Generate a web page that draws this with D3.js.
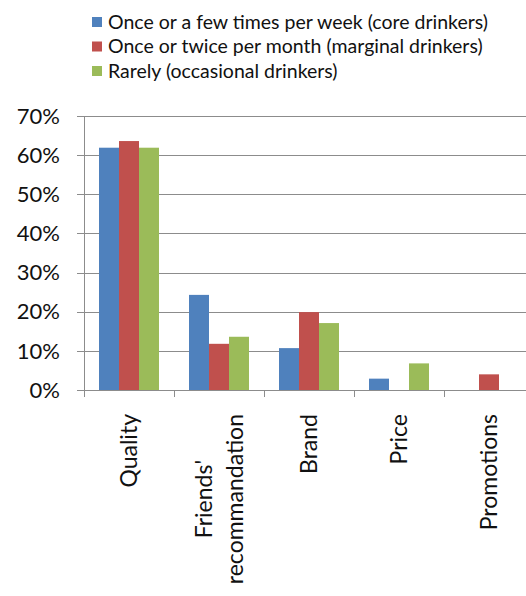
<!DOCTYPE html>
<html>
<head>
<meta charset="utf-8">
<script src="https://cdn.jsdelivr.net/npm/d3@7"></script>
<style>
  body { margin: 0; background: #fff; }
  svg { display: block; font-family: Lato, 'Open Sans', sans-serif; }
</style>
</head>
<body>
<div id="chart"></div>
<script>
const categories = ['Quality', "Friends'\nrecommandation", 'Brand', 'Price', 'Promotions']
const seriesNames = [
  'Once or a few times per week (core drinkers)',
  'Once or twice per month (marginal drinkers)',
  'Rarely (occasional drinkers)'
]
const coreValues = [0.619, 0.243, 0.107, 0.029, 0]
const marginalValues = [0.636, 0.118, 0.199, 0, 0.040]
const occasionalValues = [0.619, 0.136, 0.171, 0.068, 0]
const yTicks = [0, 0.1, 0.2, 0.3, 0.4, 0.5, 0.6, 0.7]
const colors = ['#4f81bd', '#c0504d', '#9bbb59']

const margin = { top: 116, left: 84, right: 0, bottom: 206 }
const width = 450
const height = 596 - margin.top - margin.bottom

const svg = d3
  .select('#chart')
  .append('svg')
  .attr('width', 526)
  .attr('height', 596)

const g = svg
  .append('g')
  .attr('transform', 'translate(' + margin.left + ',' + margin.top + ')')

const xPositionScale = d3.scaleBand().domain(categories).range([0, width]).padding(0)
const xInner = d3
  .scaleBand()
  .domain(seriesNames)
  .range([0, xPositionScale.bandwidth()])
  .paddingInner(0)
  .paddingOuter(0.75)
const yPositionScale = d3.scaleLinear().domain([0, 0.7]).range([height, 0])

const allValues = [coreValues, marginalValues, occasionalValues]

// gridlines
g.selectAll('.grid')
  .data(yTicks)
  .enter()
  .append('line')
  .attr('class', 'grid')
  .attr('x1', -7)
  .attr('x2', width)
  .attr('y1', d => Math.round(yPositionScale(d)) + 0.5)
  .attr('y2', d => Math.round(yPositionScale(d)) + 0.5)
  .attr('stroke', '#8c8c8c')
  .attr('stroke-width', 1)

// y labels
g.selectAll('.y-label')
  .data(yTicks)
  .enter()
  .append('text')
  .attr('class', 'y-label')
  .attr('x', -24)
  .attr('y', d => yPositionScale(d))
  .attr('dy', '0.35em')
  .attr('text-anchor', 'end')
  .attr('font-size', 22)
  .attr('fill', '#111')
  .text(d3.format('.0%'))

// bars
categories.forEach((cat, i) => {
  const group = g.append('g').attr('transform', 'translate(' + xPositionScale(cat) + ',0)')
  seriesNames.forEach((s, j) => {
    const v = allValues[j][i]
    if (!v) return
    group
      .append('rect')
      .attr('x', xInner(s))
      .attr('width', xInner.bandwidth())
      .attr('y', yPositionScale(v))
      .attr('height', height - yPositionScale(v))
      .attr('fill', colors[j])
  })
})

// axes lines
g.append('line')
  .attr('x1', 0.5).attr('x2', 0.5)
  .attr('y1', 0).attr('y2', height + 7)
  .attr('stroke', '#8c8c8c')

g.selectAll('.x-tick')
  .data(categories.slice(1))
  .enter()
  .append('line')
  .attr('x1', d => Math.round(xPositionScale(d)) + 0.5)
  .attr('x2', d => Math.round(xPositionScale(d)) + 0.5)
  .attr('y1', height)
  .attr('y2', height + 7)
  .attr('stroke', '#8c8c8c')

// x labels, rotated
categories.forEach(cat => {
  const lines = cat.split('\n')
  const cx = xPositionScale(cat) + xPositionScale.bandwidth() / 2
  const lineGap = 31
  const t = g
    .append('text')
    .attr('transform', 'translate(' + cx + ',' + (height + 24) + ') rotate(-90)')
    .attr('font-size', 23)
    .attr('fill', '#111')
    .attr('text-anchor', 'end')
  // widest line sets the block, others centred on it
  const longest = d3.max(lines, l => l.length)
  lines.forEach((line, k) => {
    t.append('tspan')
      .attr('x', 0)
      .attr('y', (k - (lines.length - 1) / 2) * lineGap)
      .attr('dy', '0.35em')
      .text(line)
  })
  if (lines.length > 1) {
    const lens = []
    t.selectAll('tspan').each(function() { lens.push(this.getComputedTextLength()) })
    const maxLen = d3.max(lens)
    t.attr('text-anchor', 'middle')
    t.selectAll('tspan').attr('x', -maxLen / 2)
  }
})

// legend
const legend = svg.append('g').attr('transform', 'translate(92, 22)')
legend
  .selectAll('.legend-entry')
  .data(seriesNames)
  .enter()
  .append('g')
  .attr('class', 'legend-entry')
  .attr('transform', (d, i) => `translate(0,${i * 24.5})`)
  .each(function(d, i) {
    const e = d3.select(this)
    e.append('rect')
      .attr('x', 0)
      .attr('y', -5)
      .attr('width', 10)
      .attr('height', 10)
      .attr('fill', colors[i])
    e.append('text')
      .attr('x', 16)
      .attr('y', 0)
      .attr('dy', '0.35em')
      .attr('font-size', 19.5)
      .attr('fill', '#111')
      .text(d)
  })
</script>
</body>
</html>
